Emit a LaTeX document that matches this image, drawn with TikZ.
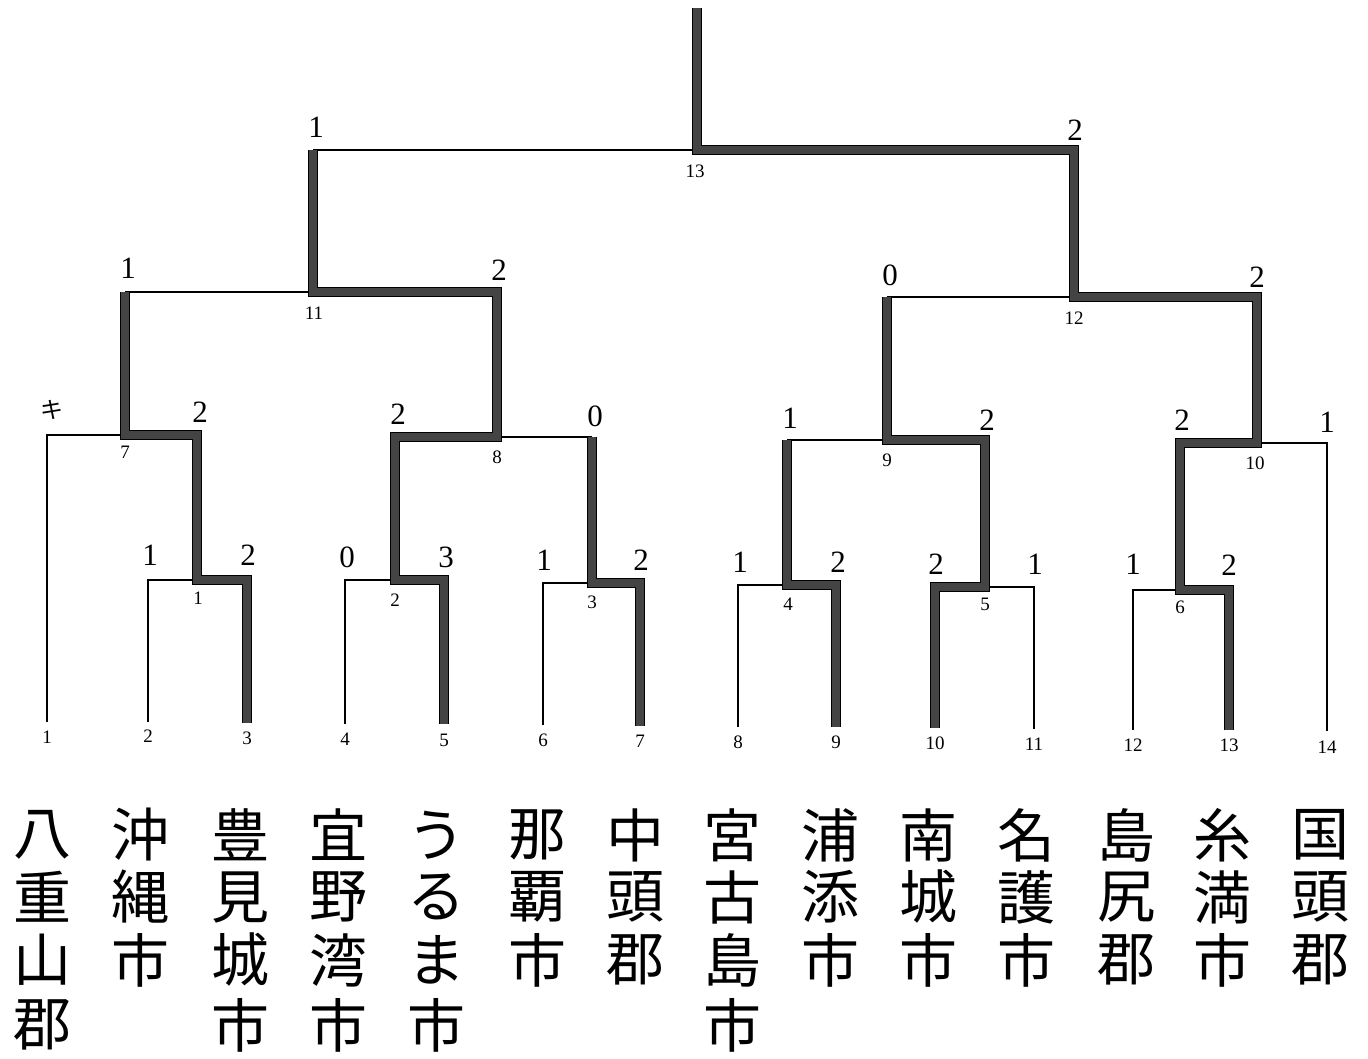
\documentclass[tikz,border=0pt]{standalone}
\usepackage{fontspec}
\setmainfont{Liberation Serif}
\newfontfamily\jp{Noto Sans CJK JP}
\begin{document}
\begin{tikzpicture}[x=1pt,y=-1pt,
  thinbr/.style={line width=1.4pt, draw=black, line join=miter},
  thickbr/.style={line width=8pt, draw={rgb,255:red,68;green,68;blue,68}, line join=miter, line cap=butt,
    preaction={draw=black, line width=10.5pt, line join=miter, line cap=butt}},
  scorelbl/.style={font=\fontsize{31}{31}\selectfont, inner sep=0pt},
  smalllbl/.style={font=\fontsize{19}{19}\selectfont, inner sep=0pt},
  cjkname/.style={font=\jp\fontsize{58}{58}\selectfont, inner sep=0pt}]
\useasboundingbox (0,0) rectangle (1368,1058);
% leaf bottoms and leaf numbers
\foreach \i/\x/\yb/\yl in {1/47/722/737,2/148/722/736,3/247/723/738,4/345/724/739,5/444/724/740,6/543/725/740,7/640/726/741,8/738/727/742,9/836/727/742,10/935/728/743,11/1034/729/744,12/1133/730/745,13/1229/730/745,14/1327/731/747}{
  \coordinate (L\i) at (\x,\yb);
  \node[smalllbl] (n\i) at (\x,\yl) {\i};
}
% junctions
\coordinate (J1) at (197,580);
\coordinate (J2) at (395,580);
\coordinate (J3) at (592,583);
\coordinate (J4) at (787,585);
\coordinate (J5) at (985,587);
\coordinate (J6) at (1180,590);
\coordinate (J7) at (125,435);
\coordinate (J8) at (497,437);
\coordinate (J9) at (887,440);
\coordinate (J10) at (1257,443);
\coordinate (J11) at (313,292);
\coordinate (J12) at (1074,297);
\coordinate (J13) at (697,150);
\coordinate (Top) at (697,8);
% junction labels
\foreach \i/\x/\y in {1/198/598,2/395/600,3/592/602,4/788/604,5/985/604,6/1180/607,7/125/452,8/497/457,9/887/460,10/1255/463,11/314/313,12/1074/318,13/695/171}{
  \node[smalllbl] (jl\i) at (\x,\y) {\i};
}
% thin lines
\draw[thinbr] (L1) |- (J7);
\draw[thinbr] (L2) |- (J1);
\draw[thinbr] (L4) |- (J2);
\draw[thinbr] (L6) |- (J3);
\draw[thinbr] (L8) |- (J4);
\draw[thinbr] (L11) |- (J5);
\draw[thinbr] (L12) |- (J6);
\draw[thinbr] (L14) |- (J10);
\draw[thinbr] (J3 |- J8) -- (J8);
\draw[thinbr] (J4 |- J9) -- (J9);
\draw[thinbr] (J7 |- J11) -- (J11);
\draw[thinbr] (J9 |- J12) -- (J12);
\draw[thinbr] (J11 |- J13) -- (J13);
% thick (winner) lines
\draw[thickbr] (L3) |- (J1) |- (J7) -- (J7 |- J11);
\draw[thickbr] (L5) |- (J2) |- (J8) |- (J11) -- (J11 |- J13);
\draw[thickbr] (L7) |- (J3) -- (J3 |- J8);
\draw[thickbr] (L9) |- (J4) -- (J4 |- J9);
\draw[thickbr] (L10) |- (J5) |- (J9) -- (J9 |- J12);
\draw[thickbr] (L13) |- (J6) |- (J10) |- (J12) |- (J13) -- (Top);
% scores
\foreach \n/\x/\y/\t in {1a/150/555/1,1b/248/555/2,2a/347/557/0,2b/446/557/3,3a/544/560/1,3b/641/560/2,4a/740/562/1,4b/838/562/2,5a/936/564/2,5b/1035/564/1,6a/1133/564/1,6b/1229/565/2,7b/200/412/2,8a/398/414/2,8b/595/416/0,9a/790/418/1,9b/987/420/2,10a/1182/420/2,10b/1327/422/1,11a/128/268/1,11b/499/270/2,12a/890/275/0,12b/1257/277/2,13a/316/127/1,13b/1075/130/2}{
  \node[scorelbl] (s\n) at (\x,\y) {\t};
}
\node[font=\jp\fontsize{23}{23}\selectfont, inner sep=0pt] (s7a) at (52,410) {キ};
% names (vertical)
\foreach \c/\x/\a/\b/\cc/\d in {1/42/八/重/山/郡,2/140/沖/縄/市/,3/240/豊/見/城/市,4/338/宜/野/湾/市,5/436/う/る/ま/市,6/537/那/覇/市/,7/635/中/頭/郡/,8/732/宮/古/島/市,9/830/浦/添/市/,10/928/南/城/市/,11/1026/名/護/市/,12/1126/島/尻/郡/,13/1222/糸/満/市/,14/1320/国/頭/郡/}{
  \node[cjkname] (t\c a) at (\x,835) {\a};
  \node[cjkname] (t\c b) at (\x,897) {\b};
  \node[cjkname] (t\c c) at (\x,960) {\cc};
  \node[cjkname] (t\c d) at (\x,1025) {\d};
}
\end{tikzpicture}
\end{document}
